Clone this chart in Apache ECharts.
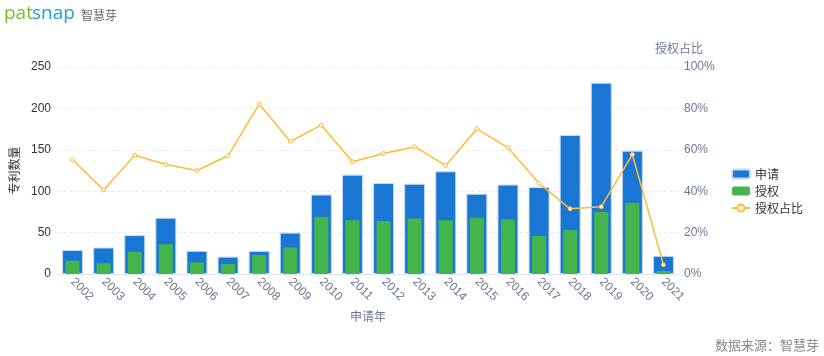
<!DOCTYPE html>
<html>
<head>
<meta charset="utf-8">
<script src="https://cdn.jsdelivr.net/npm/echarts@6/dist/echarts.min.js"></script>
<style>
html,body{margin:0;padding:0;background:#fff;}
#c{width:824px;height:356px;}
</style>
</head>
<body>
<div id="c"></div>
<script>
const years = ['2002','2003','2004','2005','2006','2007','2008','2009','2010','2011','2012','2013','2014','2015','2016','2017','2018','2019','2020','2021'];
const applications = [29,32,47,68,28,21,28,50,96,120,110,109,124,97,108,105,168,231,149,22];
const grants = [16,13,27,36,14,12,23,32,69,65,64,67,65,68,66,46,53,75,86,1];
const grantRatio = [55.2,40.6,57.4,52.9,50.0,57.1,82.1,64.0,71.9,54.2,58.2,61.5,52.4,70.1,61.1,43.8,31.5,32.5,57.7,4.5];
const leftTicks = {min:0, max:250, interval:50};
const rightTicks = {min:0, max:100, interval:20};

const FONT = "'Liberation Sans','Noto Sans CJK SC',sans-serif";
const CJK = "'Noto Sans CJK SC',sans-serif";
const chart = echarts.init(document.getElementById('c'));
chart.setOption({
  animation:false,
  textStyle:{fontFamily:FONT},
  grid:{left:54, right:145, top:67, bottom:82},
  legend:{
    orient:'vertical', left:726, top:163, itemWidth:18, itemHeight:9, itemGap:5,
    textStyle:{fontSize:12, color:'#333', fontFamily:CJK},
    data:[{name:'申请', icon:'roundRect'},{name:'授权', icon:'roundRect'},{name:'授权占比'}]
  },
  graphic:[
    {type:'text', left:4, top:4, style:{text:'pat', font:'500 19px "Open Sans", sans-serif', fill:'#7dbd2c'}},
    {type:'text', left:32, top:4, style:{text:'snap', font:'500 19px "Open Sans", sans-serif', fill:'#1aa3c8'}},
    {type:'text', left:81, top:9, style:{text:'智慧芽', font:'12px "Noto Sans CJK SC"', fill:'#666'}},
    {type:'text', right:5, top:339, style:{text:'数据来源：智慧芽', font:'13px "Noto Sans CJK SC"', fill:'#888'}}
  ],
  xAxis:[{
    type:'category', data:years,
    name:'申请年', nameLocation:'middle', nameGap:31,
    nameTextStyle:{color:'#6e7891', fontSize:12, fontFamily:CJK},
    axisLine:{lineStyle:{color:'#e0e6f1'}},
    axisTick:{show:false},
    axisLabel:{rotate:-45, color:'#6e7891', fontSize:12, margin:6, interval:0}
  },{
    type:'category', data:years, show:false
  }],
  yAxis:[{
    type:'value', min:leftTicks.min, max:leftTicks.max, interval:leftTicks.interval,
    name:'专利数量', nameLocation:'middle', nameGap:37, nameRotate:90,
    nameTextStyle:{color:'#333', fontSize:12, fontFamily:CJK},
    axisLine:{show:false}, axisTick:{show:false},
    axisLabel:{color:'#333', fontSize:12, margin:6},
    splitLine:{lineStyle:{color:'#eeeeee', type:'dashed'}}
  },{
    type:'value', min:rightTicks.min, max:rightTicks.max, interval:rightTicks.interval,
    name:'授权占比', nameLocation:'end', nameGap:13,
    nameTextStyle:{color:'#6e7891', fontSize:12, fontFamily:CJK},
    axisLine:{show:false}, axisTick:{show:false},
    axisLabel:{color:'#6e7891', fontSize:12, margin:5, formatter:'{value}%'},
    splitLine:{show:false}
  }],
  series:[{
    name:'申请', type:'bar', xAxisIndex:0, yAxisIndex:0, data:applications,
    barWidth:21,
    itemStyle:{color:'#1a76d3', borderColor:'#c6dcf5', borderWidth:1}
  },{
    name:'授权', type:'bar', xAxisIndex:1, yAxisIndex:0, data:grants,
    barWidth:14, barMinHeight:3,
    itemStyle:{color:'#44b54c'}
  },{
    name:'授权占比', type:'line', xAxisIndex:0, yAxisIndex:1, data:grantRatio,
    symbol:'circle', symbolSize:4,
    lineStyle:{color:'#fbbd38', width:1.5},
    itemStyle:{color:'#fff8e1', borderColor:'#fbbd38', borderWidth:1}
  }]
});
</script>
</body>
</html>
